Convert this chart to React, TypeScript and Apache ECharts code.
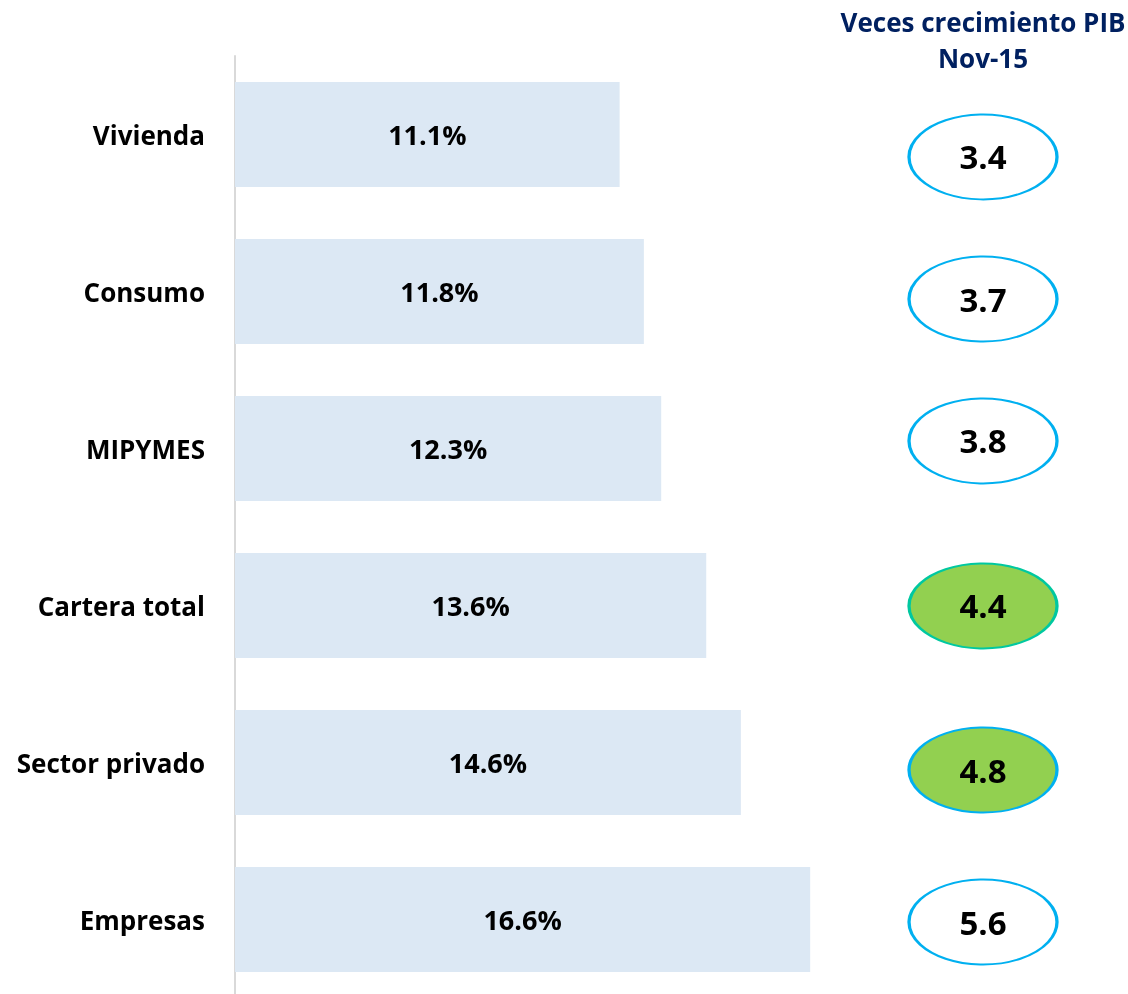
import React, { useEffect, useRef } from "react";
import * as echarts from "echarts";

const categories = ["Vivienda", "Consumo", "MIPYMES", "Cartera total", "Sector privado", "Empresas"];
const growth = [11.1, 11.8, 12.3, 13.6, 14.6, 16.6];
const gdpTimes = [3.4, 3.7, 3.8, 4.4, 4.8, 5.6];
const highlighted = ["Cartera total", "Sector privado"];
const titleLines = ["Veces crecimiento PIB", "Nov-15"];

// layout: vertical placement of the ellipses, in row units (they are not exactly aligned with the bars)
const ellipseRowOffset = [0.143, 1.048, 1.952, 3.003, 4.048, 5.016];

const FONT = "'Open Sans', sans-serif";

export default function App() {
  const ref = useRef<HTMLDivElement>(null);
  useEffect(() => {
    if (!ref.current) return;
    const chart = echarts.init(ref.current, undefined, { renderer: "svg" });
    chart.setOption({
      animation: false,
      textStyle: { fontFamily: FONT },
      grid: [
        { left: 235, width: 693, top: 56, height: 942 },
        { left: 908, width: 150, top: 56, height: 942 },
      ],
      xAxis: [
        { type: "value", gridIndex: 0, min: 0, max: 20, show: false },
        { type: "value", gridIndex: 1, min: 0, max: 1, show: false },
      ],
      yAxis: [
        {
          type: "category",
          gridIndex: 0,
          data: categories,
          inverse: true,
          axisLine: { show: true, lineStyle: { color: "#d9d9d9", width: 2 } },
          axisTick: { show: false },
          axisLabel: { fontSize: 26, fontWeight: "bold", color: "#000", margin: 30, fontFamily: FONT },
        },
        { type: "value", gridIndex: 1, min: -0.5, max: 5.5, inverse: true, show: false },
      ],
      graphic: [
        {
          type: "text",
          x: 983,
          y: 4,
          style: {
            text: titleLines.join("\n"),
            align: "center",
            fontSize: 26,
            fontWeight: "bold",
            lineHeight: 36,
            fill: "#002060",
            fontFamily: FONT,
          },
        },
      ],
      series: [
        {
          type: "bar",
          xAxisIndex: 0,
          yAxisIndex: 0,
          data: growth,
          barWidth: 105,
          itemStyle: { color: "#DCE8F4" },
          label: {
            show: true,
            position: "inside",
            formatter: (p: any) => p.value.toFixed(1) + "%",
            fontSize: 27,
            fontWeight: "bold",
            color: "#000",
            fontFamily: FONT,
          },
        },
        {
          type: "scatter",
          xAxisIndex: 1,
          yAxisIndex: 1,
          symbol: "circle",
          symbolSize: [148, 85],
          data: gdpTimes.map((v, i) => {
            const hi = highlighted.includes(categories[i]);
            return {
              value: [0.5, ellipseRowOffset[i], v],
              itemStyle: {
                color: hi ? "#92D050" : "#ffffff",
                borderColor: i === 3 ? "#00C8A0" : "#00B0F0",
                borderWidth: 2.5,
                opacity: 1,
              },
            };
          }),
          label: {
            show: true,
            position: "inside",
            formatter: (p: any) => p.value[2].toFixed(1),
            fontSize: 33,
            fontWeight: "bold",
            color: "#000",
            fontFamily: FONT,
          },
        },
      ],
    });
    return () => chart.dispose();
  }, []);
  return <div ref={ref} style={{ position: "fixed", left: 0, top: 0, width: 1128, height: 1010 }} />;
}
